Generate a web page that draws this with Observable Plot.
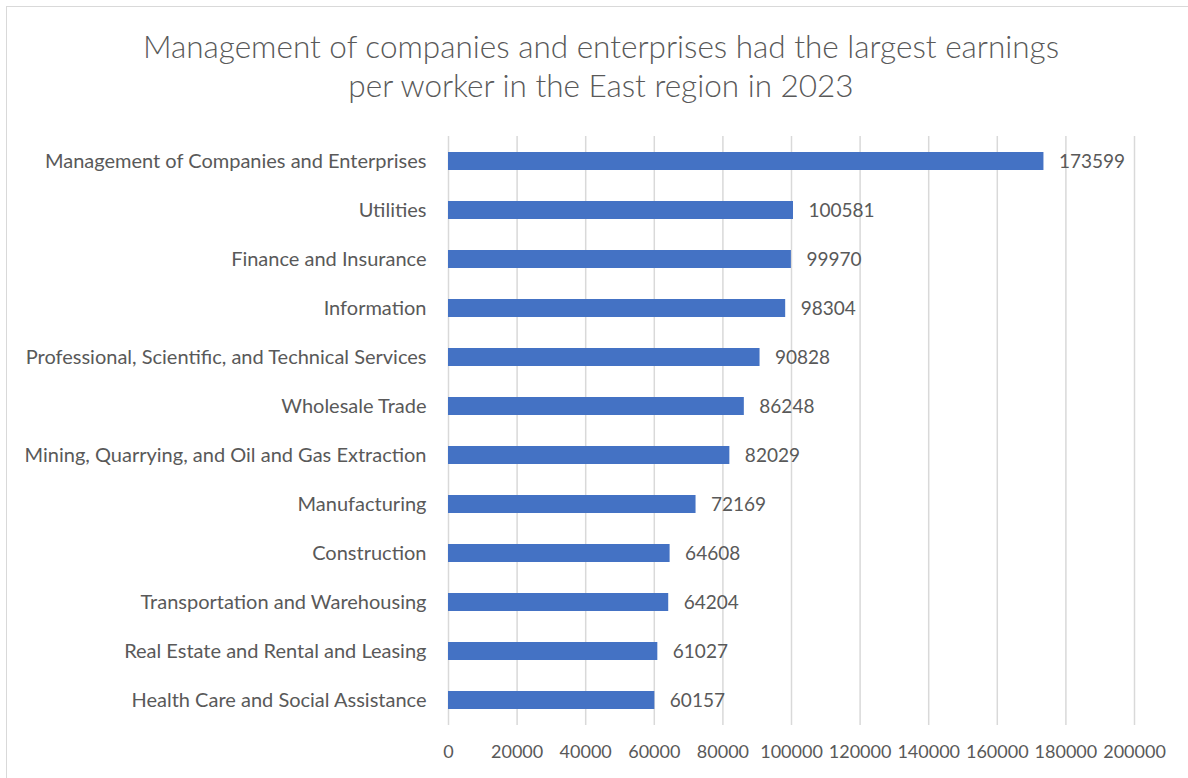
<!DOCTYPE html>
<html>
<head>
<meta charset="utf-8">
<script src="https://cdn.jsdelivr.net/npm/d3@7"></script>
<script src="https://cdn.jsdelivr.net/npm/@observablehq/plot@0.6"></script>
<style>
  html, body { margin: 0; padding: 0; background: #fff; }
  #wrap { position: relative; width: 1188px; height: 778px; overflow: hidden; }
  #frame { position: absolute; left: 6px; top: 6px; width: 1190px; height: 790px; border: 1px solid #d9d9d9; box-sizing: border-box; }
  #title { position: absolute; left: 0; top: 27px; width: 1202px; text-align: center; font-family: Lato, "Open Sans", sans-serif; font-weight: 300; font-size: 31.5px; line-height: 39px; color: #595959; }
  #chart { position: absolute; left: 0; top: 120px; }
</style>
</head>
<body>
<div id="wrap">
  <div id="frame"></div>
  <div id="title">Management of companies and enterprises had the largest earnings<br>per worker in the East region in 2023</div>
  <div id="chart"></div>
</div>
<script>
const industries = [
  "Management of Companies and Enterprises",
  "Utilities",
  "Finance and Insurance",
  "Information",
  "Professional, Scientific, and Technical Services",
  "Wholesale Trade",
  "Mining, Quarrying, and Oil and Gas Extraction",
  "Manufacturing",
  "Construction",
  "Transportation and Warehousing",
  "Real Estate and Rental and Leasing",
  "Health Care and Social Assistance"
];
const earnings = [173599, 100581, 99970, 98304, 90828, 86248, 82029, 72169, 64608, 64204, 61027, 60157];
const xTicks = [0, 20000, 40000, 60000, 80000, 100000, 120000, 140000, 160000, 180000, 200000];

const data = industries.map((name, i) => ({industry: name, value: earnings[i]}));

const chart = Plot.plot({
  width: 1188,
  height: 658,
  marginTop: 16,
  marginBottom: 53,
  marginLeft: 448,
  marginRight: 54,
  style: {fontFamily: "Lato, 'Open Sans', sans-serif", fontSize: "18px", color: "#595959", background: "transparent", overflow: "visible"},
  x: {domain: [0, 200000], label: null},
  y: {domain: industries, paddingInner: 0.63, paddingOuter: 0.315, label: null},
  marks: [
    Plot.gridX(xTicks, {stroke: "#d9d9d9", strokeOpacity: 1, strokeWidth: 1.5}),
    Plot.axisX(xTicks, {tickSize: 0, tickPadding: 20, tickFormat: d => String(d), fontSize: 18, fill: "#595959", label: null}),
    Plot.axisY({tickSize: 0, tickPadding: 22, fontSize: 20, fill: "#595959", label: null}),
    Plot.barX(data, {x: "value", y: "industry", fill: "#4472c4"}),
    Plot.text(data, {x: "value", y: "industry", text: d => String(d.value), dx: 15, textAnchor: "start", fill: "#595959", fontSize: 19})
  ]
});
document.getElementById("chart").appendChild(chart);
</script>
</body>
</html>
